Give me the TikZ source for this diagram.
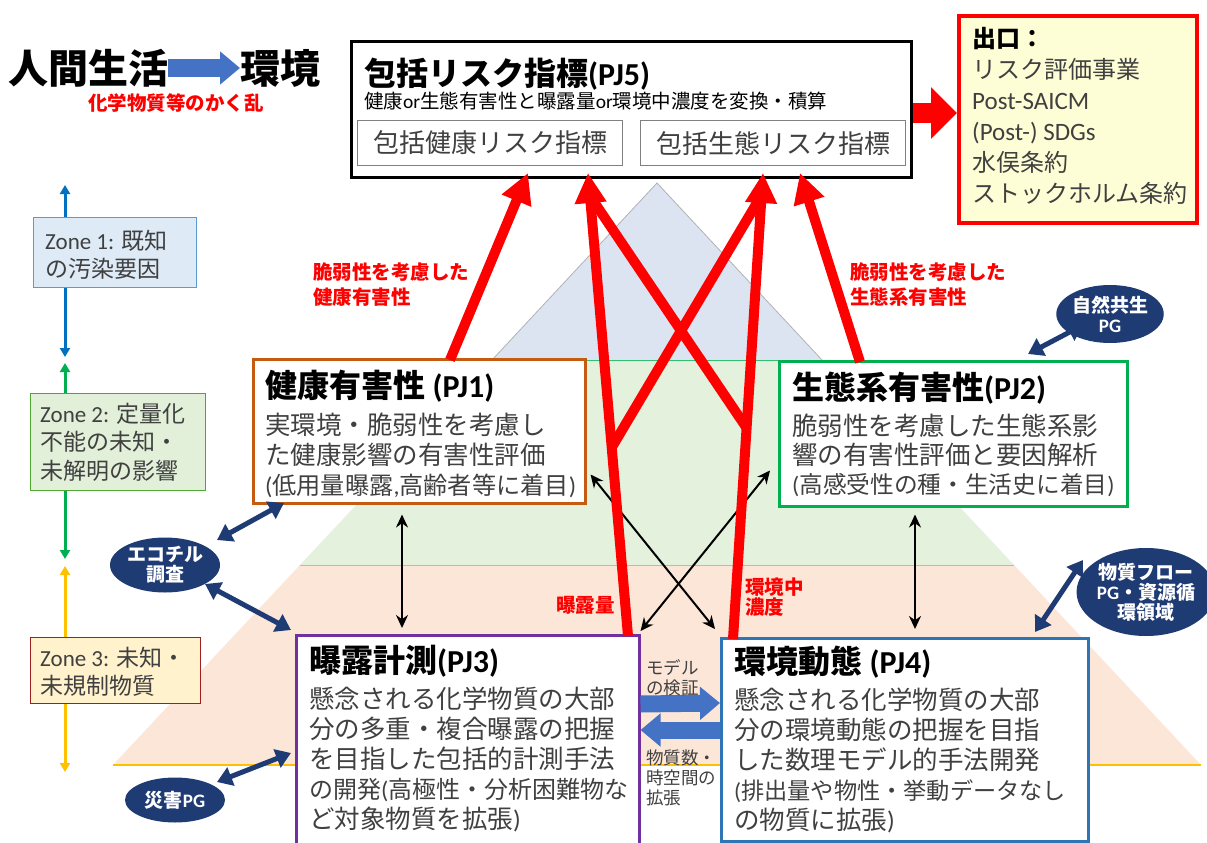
\documentclass[tikz,border=0pt]{standalone}
\usepackage{fontspec}
\setmainfont{Noto Sans CJK JP}
\newfontfamily\latn{Carlito}
\usetikzlibrary{arrows.meta,shapes.geometric}
\definecolor{pjorange}{HTML}{C55A11}
\definecolor{pjgreen}{HTML}{00B050}
\definecolor{pjpurple}{HTML}{7030A0}
\definecolor{pjblue}{HTML}{2E75B6}
\definecolor{txtgray}{HTML}{404040}
\definecolor{navyb}{HTML}{1F3B73}
\definecolor{arrblue}{HTML}{4472C4}
\definecolor{exitfill}{HTML}{FEFED6}
\definecolor{zbluefill}{HTML}{DEEBF7}
\definecolor{zblueline}{HTML}{5B9BD5}
\definecolor{zgreenfill}{HTML}{E2F0D9}
\definecolor{zgreenline}{HTML}{4EA72E}
\definecolor{zorangefill}{HTML}{FFF2CC}
\definecolor{zorangeline}{HTML}{A02020}
\definecolor{pyrblue}{HTML}{DCE4F2}
\definecolor{pyrgreen}{HTML}{E4F1DC}
\definecolor{pyrorange}{HTML}{FCE6D8}
\definecolor{axblue}{HTML}{0070C0}
\definecolor{axgreen}{HTML}{00B050}
\definecolor{axyellow}{HTML}{FFC000}
\newcommand\fsz[2]{\fontsize{#1}{#2}\selectfont}
\newcommand\lpa{{\latn(}}
\newcommand\rpa{{\latn)}}
\newcommand\cma{{\latn,}}
\tikzset{
  pjbox/.style={draw, line width=2.5pt, fill=white, inner sep=0pt, anchor=north west},
  bodytext/.style={anchor=base west, align=left, inner sep=0pt, text=txtgray, font=\fsz{25.5}{30}},
  titletext/.style={anchor=base west, inner sep=0pt, font=\fsz{32}{36}\bfseries},
  redarrow/.style={draw=red, line width=10pt, -{Triangle[length=30pt,width=30pt]}},
  redline/.style={draw=red, line width=10pt},
  thinarrow/.style={draw=black, line width=2pt, {Stealth[length=13pt,width=12pt]}-{Stealth[length=13pt,width=12pt]}},
  navyarrow/.style={draw=navyb, line width=5pt, {Triangle[length=15pt,width=19pt]}-{Triangle[length=15pt,width=19pt]}},
  pgell/.style={ellipse, fill=navyb, text=white, inner sep=0pt, align=center, font=\fsz{19}{20}\bfseries},
  redlabel/.style={anchor=base west, align=left, inner sep=0pt, text=red, font=\fsz{19.5}{25}\bfseries},
  zonebox/.style={draw, line width=1pt, anchor=north west, inner sep=0pt},
  zonetext/.style={anchor=base west, align=left, inner sep=0pt, text=txtgray, font=\fsz{23}{28.5}},
  smalltext/.style={anchor=base west, align=left, inner sep=0pt, text=txtgray, font=\fsz{17.5}{20}},
  axisarrow/.style={line width=3pt, {Triangle[length=9pt,width=10pt]}-{Triangle[length=9pt,width=10pt]}},
  blockarrow/.style={draw=arrblue, line width=17pt, -{Triangle[length=20pt,width=32pt]}},
}
\begin{document}
\begin{tikzpicture}[x=1pt,y=-1pt]
\useasboundingbox (0,0) rectangle (1207,843);
\fill[white] (0,0) rectangle (1207,843);

% pyramid
\fill[pyrblue] (657,183) -- (492,360) -- (822,360) -- cycle;
\draw[gray!60, line width=0.8pt] (492,360) -- (657,183) -- (822,360);
\fill[pyrgreen] (492,360) -- (822,360) -- (1014,565) -- (300,565) -- cycle;
\draw[pjgreen!80, line width=0.8pt] (492,360) -- (822,360);
\fill[pyrorange] (300,565) -- (1014,565) -- (1201,765) -- (113,765) -- cycle;
\draw[axyellow!90!orange, line width=0.8pt] (300,565) -- (1014,565);
\draw[axyellow, line width=1.2pt] (113,765) -- (1201,765);

% left axis
\coordinate (ax1) at (65,185); \coordinate (ax2) at (65,357);
\coordinate (ax3) at (65,363); \coordinate (ax4) at (65,559);
\coordinate (ax5) at (65,566); \coordinate (ax6) at (65,772);
\draw[axisarrow, draw=axblue, fill=axblue] (ax1) -- (ax2);
\draw[axisarrow, draw=axgreen, fill=axgreen] (ax3) -- (ax4);
\draw[axisarrow, draw=axyellow, fill=axyellow] (ax5) -- (ax6);

% zone boxes
\node[zonebox, draw=zblueline, fill=zbluefill, minimum width=163pt, minimum height=70pt] (z1) at (33,217) {};
\node[zonetext] (z1t) at (45,277.5) {{\latn Zone 1:} 既知\\の汚染要因};
\node[zonebox, draw=zgreenline, fill=zgreenfill, minimum width=175pt, minimum height=97pt] (z2) at (30,393) {};
\node[zonetext] (z2t) at (40,479) {{\latn Zone 2:} 定量化\\不能の未知・\\未解明の影響};
\node[zonebox, draw=zorangeline, fill=zorangefill, minimum width=170pt, minimum height=66pt] (z3) at (30,637) {};
\node[zonetext] (z3t) at (40,694.5) {{\latn Zone 3:} 未知・\\未規制物質};

% top-left heading
\node[anchor=base west, inner sep=0pt, font=\fsz{40}{44}\bfseries] (hl) at (8,83) {人間生活};
\node[anchor=base west, inner sep=0pt, font=\fsz{40}{44}\bfseries] (hr) at (240,83) {環境};
\draw[blockarrow] (hl.east |- 0,68) -- (hr.west |- 0,68);
\node[redlabel] (kr) at (88,110) {化学物質等のかく乱};

% PJ5
\node[pjbox, line width=3pt, minimum width=560pt, minimum height=136pt] (pj5) at (350,40) {};
\node[titletext] (pj5t) at (364,85) {包括リスク指標{\latn (PJ5)}};
\node[anchor=base west, inner sep=0pt, font=\fsz{19.5}{22}] (pj5s) at (364,108) {健康{\latn or}生態有害性と曝露量{\latn or}環境中濃度を変換・積算};
\node[draw=gray, line width=1.2pt, anchor=north west, minimum width=265pt, minimum height=45pt, inner sep=0pt, font=\fsz{26}{28}, text=txtgray] (ri1) at (357,120) {包括健康リスク指標};
\node[draw=gray, line width=1.2pt, anchor=north west, minimum width=265pt, minimum height=45pt, inner sep=0pt, font=\fsz{26}{28}, text=txtgray] (ri2) at (640,120) {包括生態リスク指標};

% exit box
\node[draw=red, line width=4pt, fill=exitfill, anchor=north west, minimum width=238pt, minimum height=207pt, inner sep=0pt] (exit) at (957,14) {};
\node[anchor=base west, align=left, inner sep=0pt, font=\fsz{24}{31}, text=txtgray] (exitt) at (972,202)
  {{\bfseries\color{black}出口：}\\リスク評価事業\\{\latn\fontsize{25}{31}\selectfont Post-SAICM}\\{\latn\fontsize{25}{31}\selectfont (Post-) SDGs}\\水俣条約\\ストックホルム条約};
\draw[draw=red, line width=20pt, -{Triangle[length=26pt,width=50pt]}] (pj5.east |- 0,113) -- (exit.west |- 0,113);

% PJ boxes
\node[pjbox, draw=pjorange, minimum width=332pt, minimum height=144pt] (pj1) at (252,358) {};
\node[titletext] (pj1t) at (265,397) {健康有害性 {\latn (PJ1)}};
\node[bodytext] (pj1b) at (265,494) {実環境・脆弱性を考慮し\\た健康影響の有害性評価\\{\fontsize{24.2}{30}\selectfont\lpa 低用量曝露\cma 高齢者等に着目\rpa}};

\node[pjbox, draw=pjgreen, minimum width=348pt, minimum height=145pt] (pj2) at (778,360) {};
\node[titletext] (pj2t) at (792,399) {生態系有害性{\latn (PJ2)}};
\node[bodytext, font=\fsz{25.5}{29}] (pj2b) at (792,493) {脆弱性を考慮した生態系影\\響の有害性評価と要因解析\\{\fontsize{23.7}{29}\selectfont\lpa 高感受性の種・生活史に着目\rpa}};

\node[pjbox, draw=pjpurple, minimum width=343pt, minimum height=215pt] (pj3) at (295,634) {};
\node[titletext] (pj3t) at (309,672) {曝露計測{\latn (PJ3)}};
\node[bodytext] (pj3b) at (309,828) {懸念される化学物質の大部\\分の多重・複合曝露の把握\\を目指した包括的計測手法\\{\fontsize{24}{30}\selectfont の開発\lpa 高極性・分析困難物な}\\ど対象物質を拡張\rpa};

\node[pjbox, draw=pjblue, minimum width=367pt, minimum height=203pt] (pj4) at (720,637) {};
\node[titletext] (pj4t) at (734,673) {環境動態 {\latn (PJ4)}};
\node[bodytext] (pj4b) at (734,829) {懸念される化学物質の大部\\分の環境動態の把握を目指\\した数理モデル的手法開発\\{\fontsize{23.2}{30}\selectfont\lpa 排出量や物性・挙動データなし}\\の物質に拡張\rpa};

% PG ellipses
\node[pgell, minimum width=110pt, minimum height=55pt] (eco) at (165,565) {エコチル\\調査};
\node[pgell, minimum width=100pt, minimum height=45pt] (sai) at (175,800) {災害{\latn PG}};
\node[pgell, minimum width=98pt, minimum height=58pt] (shi) at (1110,314) {自然共生\\{\latn PG}};
\node[pgell, minimum width=122pt, minimum height=88pt] (bus) at (1146,592) {物質フロー\\{\latn PG}・資源循\\環領域};

% navy arrows
\coordinate (n1a) at (217,540); \coordinate (n1b) at (284,503);
\coordinate (n2a) at (205,584); \coordinate (n2b) at (291,630);
\coordinate (n3a) at (217,782); \coordinate (n3b) at (291,753);
\coordinate (n4a) at (1083,325); \coordinate (n4b) at (1028,354);
\coordinate (n5a) at (1083,560); \coordinate (n5b) at (1035,632);
\draw[navyarrow] (n1a) -- (n1b);
\draw[navyarrow] (n2a) -- (n2b);
\draw[navyarrow] (n3a) -- (n3b);
\draw[navyarrow] (n4a) -- (n4b);
\draw[navyarrow] (n5a) -- (n5b);

% black thin arrows
\draw[thinarrow] ([xshift=150pt,yshift=-10pt]pj1.south west) -- ([xshift=107pt,yshift=6pt]pj3.north west);
\draw[thinarrow] ([xshift=137pt,yshift=-7pt]pj2.south west) -- ([xshift=195pt,yshift=8pt]pj4.north west);
\draw[thinarrow] ([xshift=4pt,yshift=30pt]pj1.south east) -- ([xshift=-5pt,yshift=8pt]pj4.north west);
\draw[thinarrow] ([xshift=-8pt,yshift=37pt]pj2.south west) -- ([xshift=0pt,yshift=3pt]pj3.north east);

% blue block arrows between PJ3 and PJ4
\draw[blockarrow, line width=17pt] ([yshift=-70pt]pj3.north east) -- ([yshift=-66pt]pj4.north west);
\draw[blockarrow, line width=17pt] ([yshift=-93pt]pj4.north west) -- ([yshift=-96pt]pj3.north east);
\node[smalltext] (mv) at (646,694) {モデル\\の検証};
\node[smalltext] (bs) at (646,804) {物質数・\\時空間の\\拡張};

% red arrows
\coordinate (s1) at ([xshift=198pt,yshift=-2pt]pj1.north west);
\coordinate (s3) at ([xshift=333pt,yshift=-2pt]pj3.north west);
\coordinate (s4) at ([xshift=13pt,yshift=-2pt]pj4.north west);
\coordinate (s2) at ([xshift=82pt,yshift=-2pt]pj2.north west);
\coordinate (t1) at ([xshift=178pt,yshift=6pt]pj5.south west);
\coordinate (t2) at ([xshift=238pt,yshift=6pt]pj5.south west);
\coordinate (t3) at ([xshift=413pt,yshift=6pt]pj5.south west);
\coordinate (t4) at ([xshift=450pt,yshift=6pt]pj5.south west);
\coordinate (bx3) at (612,447);
\coordinate (bx4) at (746,427);
\coordinate (hb2) at (590,196);
\coordinate (hb3) at (761,196);
\draw[redline] (bx3) -- (hb3);
\draw[redline] (bx4) -- (hb2);
\draw[redarrow] (s1) -- (t1);
\draw[redarrow] (s3) -- (t2);
\draw[redarrow] (s4) -- (t3);
\draw[redarrow] (s2) -- (t4);

% red labels
\node[redlabel] (lh) at (313,304) {脆弱性を考慮した\\健康有害性};
\node[redlabel] (le) at (850,304) {脆弱性を考慮した\\生態系有害性};
\node[redlabel] (lx) at (556,612) {曝露量};
\node[redlabel, font=\fsz{19.5}{20}\bfseries] (lc) at (745,614) {環境中\\濃度};
\end{tikzpicture}
\end{document}
